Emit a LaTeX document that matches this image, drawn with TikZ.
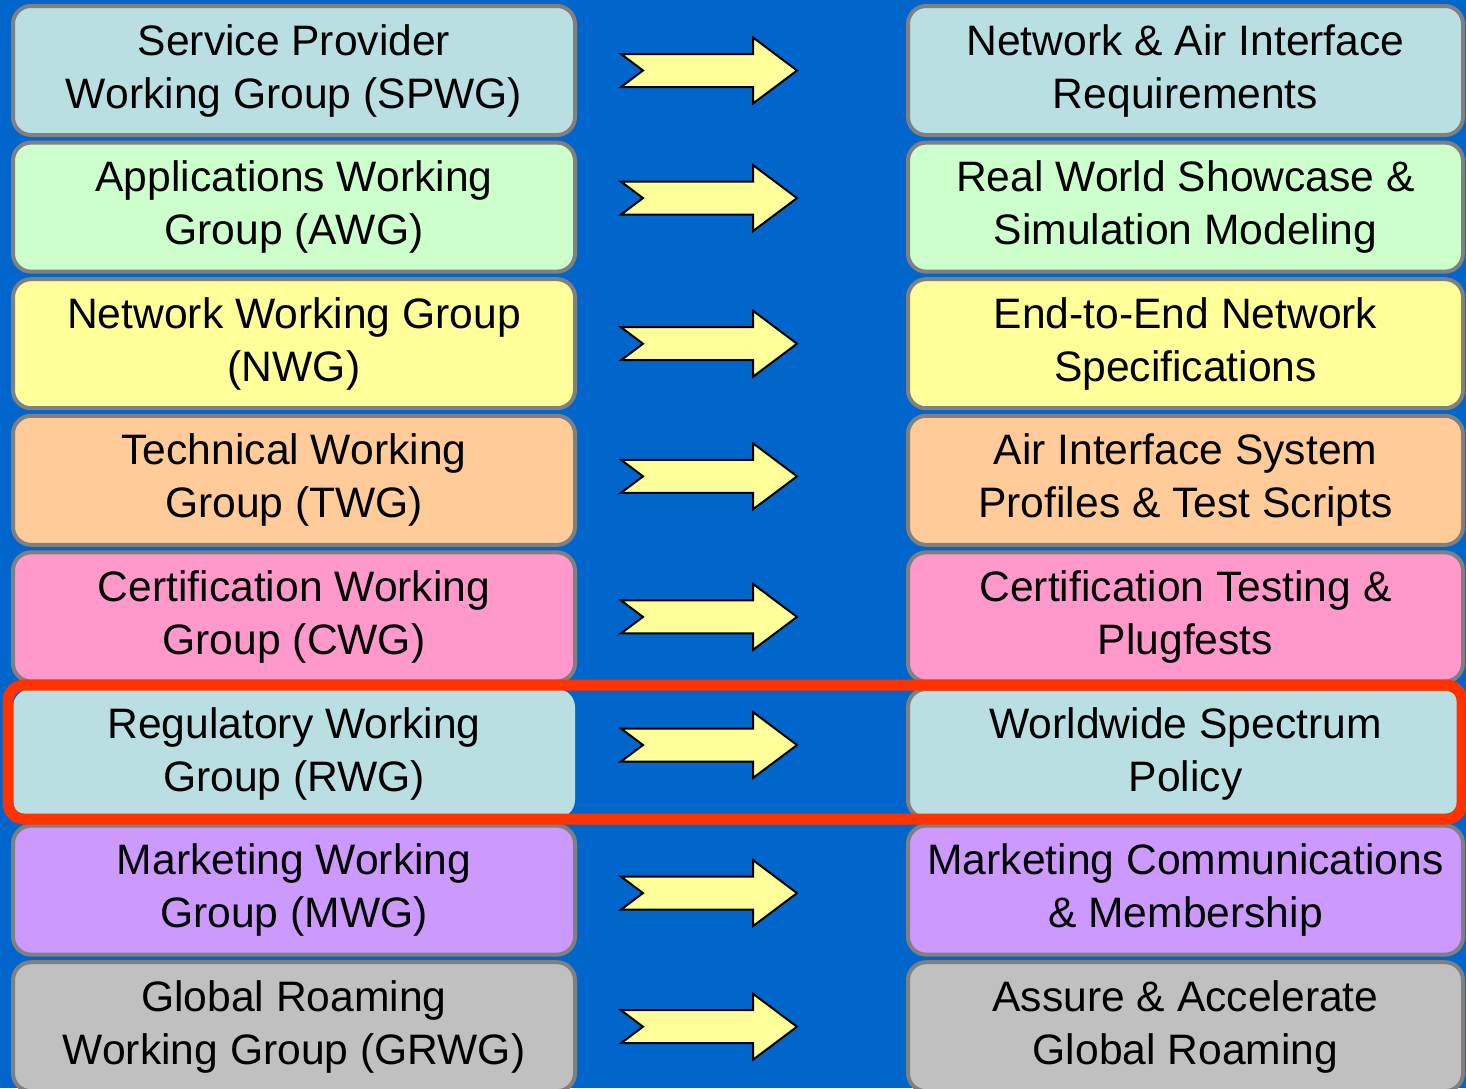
\documentclass[tikz,border=0pt]{standalone}
\usepackage{fontspec}
\setmainfont{Liberation Sans}
\usepackage{xcolor}
\usetikzlibrary{calc,positioning}
\definecolor{slideblue}{HTML}{0066CC}
\definecolor{boxgray}{HTML}{808080}
\definecolor{cblue}{HTML}{B9DFE3}
\definecolor{cgreen}{HTML}{CCFFCC}
\definecolor{cyellow}{HTML}{FFFF99}
\definecolor{cpeach}{HTML}{FFCC99}
\definecolor{cpink}{HTML}{FF99CC}
\definecolor{cviolet}{HTML}{CC99FF}
\definecolor{cgrey}{HTML}{C0C0C0}
\definecolor{hired}{HTML}{FF3300}
\tikzset{
  box/.style={draw=boxgray, line width=2pt, rounded corners=9pt, align=center,
    inner sep=2pt, minimum height=64.5pt,
    font=\fontsize{21.3}{26.5}\selectfont},
  wgbox/.style={box, minimum width=281pt},
  taskbox/.style={box, minimum width=277.5pt},
  arrowfill/.style={draw=black, line width=1pt, fill=cyellow, line join=miter},
  hilite/.style={draw=hired, line width=5.5pt, rounded corners=8pt},
  fatarrow/.pic={\draw[arrowfill] (0,8.25pt) -- (66pt,8.25pt) -- (66pt,16.5pt)
    -- (88pt,0) -- (66pt,-16.5pt) -- (66pt,-8.25pt) -- (0,-8.25pt) -- (11pt,0) -- cycle;}
}
\begin{document}
\begin{tikzpicture}[node distance=1.8pt]
  \fill[slideblue] (0,0) rectangle (733pt,-544pt);
  \useasboundingbox (0,0) rectangle (733pt,-544pt);

  % Left: working groups
  \node[wgbox, fill=cblue] (spwg) at (147pt,-35.25pt) {Service Provider\\Working Group (SPWG)};
  \node[wgbox, fill=cgreen, below=of spwg] (awg) {Applications Working\\Group (AWG)};
  \node[wgbox, fill=cyellow, below=of awg] (nwg) {Network Working Group\\(NWG)};
  \node[wgbox, fill=cpeach, below=of nwg] (twg) {Technical Working\\Group (TWG)};
  \node[wgbox, fill=cpink, below=of twg] (cwg) {Certification Working\\Group (CWG)};
  \node[wgbox, fill=cblue, draw=none, below=of cwg] (rwg) {Regulatory Working\\Group (RWG)};
  \node[wgbox, fill=cviolet, below=of rwg] (mwg) {Marketing Working\\Group (MWG)};
  \node[wgbox, fill=cgrey, below=of mwg] (grwg) {Global Roaming\\Working Group (GRWG)};

  % Right: deliverables
  \node[taskbox, fill=cblue, right=164.5pt of spwg] (nair) {Network \& Air Interface\\Requirements};
  \node[taskbox, fill=cgreen, right=164.5pt of awg] (show) {Real World Showcase \&\\Simulation Modeling};
  \node[taskbox, fill=cyellow, right=164.5pt of nwg] (e2e) {End-to-End Network\\Specifications};
  \node[taskbox, fill=cpeach, right=164.5pt of twg] (prof) {Air Interface System\\Profiles \& Test Scripts};
  \node[taskbox, fill=cpink, right=164.5pt of cwg] (cert) {Certification Testing \&\\Plugfests};
  \node[taskbox, fill=cblue, right=164.5pt of rwg] (spec) {Worldwide Spectrum\\Policy};
  \node[taskbox, fill=cviolet, right=164.5pt of mwg] (mkt) {Marketing Communications\\\& Membership};
  \node[taskbox, fill=cgrey, right=164.5pt of grwg] (roam) {Assure \& Accelerate\\Global Roaming};

  % Block arrows
  \pic at ([xshift=22pt]spwg.east) {fatarrow};
  \pic at ([xshift=22pt, yshift=4.5pt]awg.east) {fatarrow};
  \pic at ([xshift=22pt]nwg.east) {fatarrow};
  \pic at ([xshift=22pt, yshift=2pt]twg.east) {fatarrow};
  \pic at ([xshift=22pt]cwg.east) {fatarrow};
  \pic at ([xshift=22pt, yshift=4.25pt]rwg.east) {fatarrow};
  \pic at ([xshift=22pt, yshift=-1.5pt]mwg.east) {fatarrow};
  \pic at ([xshift=22pt]grwg.east) {fatarrow};

  % Highlight regulatory row
  \draw[hilite] ([xshift=-1.5pt, yshift=1pt]rwg.north west) rectangle ([xshift=-1.5pt, yshift=0.5pt]spec.south east);
\end{tikzpicture}
\end{document}
